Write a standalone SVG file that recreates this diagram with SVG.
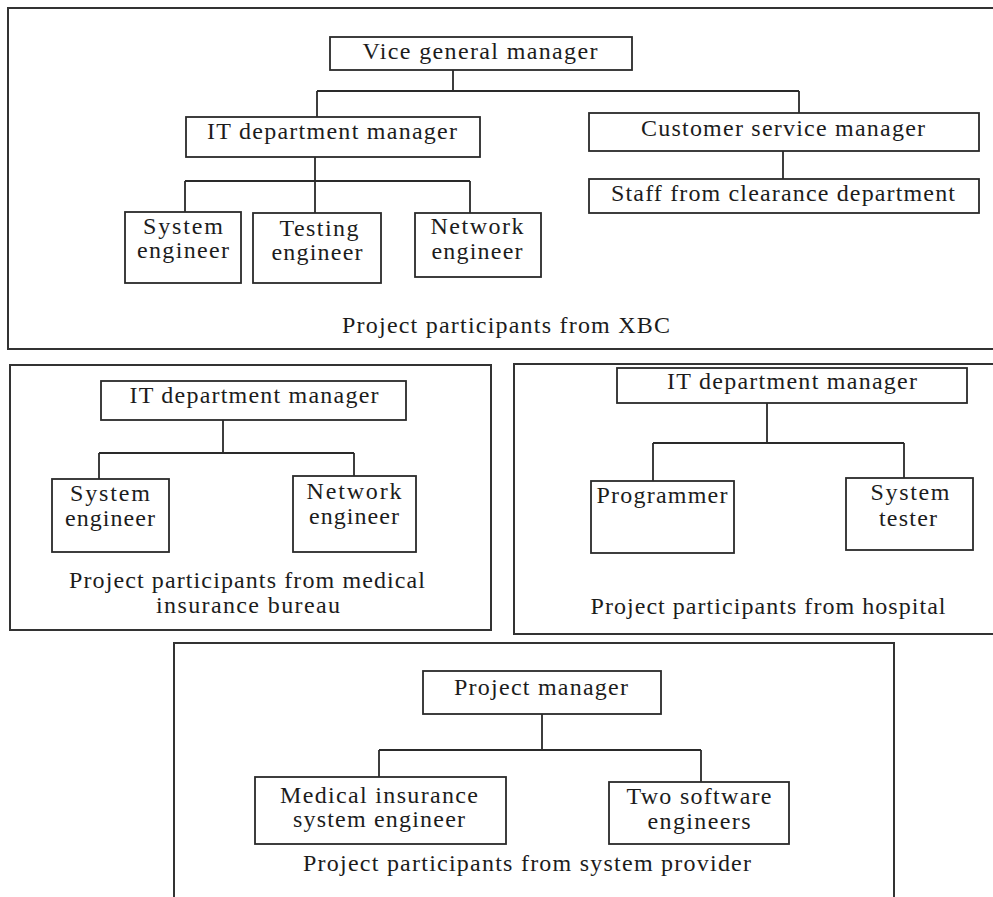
<svg xmlns="http://www.w3.org/2000/svg" width="993" height="897" viewBox="0 0 993 897">
<style>
.frame{fill:none;stroke:#333;stroke-width:2}
.box{fill:#fff;stroke:#2a2a2a;stroke-width:1.8}
.t{font-family:"Liberation Serif","Times New Roman",serif;font-size:24px;fill:#1c1c1c;text-anchor:middle}
.c{fill:none;stroke:#2a2a2a;stroke-width:1.8}
</style>
<rect width="993" height="897" fill="#fff"/>

<g id="group-xbc">
<rect class="frame" x="8" y="8" width="1000" height="341"/>
<text class="t" x="506" y="333" textLength="328">Project participants from XBC</text>
</g>
<g id="group-bureau">
<rect class="frame" x="10" y="365" width="481" height="265"/>
<text class="t" x="247" y="588" textLength="356">Project participants from medical</text>
<text class="t" x="248" y="613" textLength="184">insurance bureau</text>
</g>
<g id="group-hospital">
<rect class="frame" x="514" y="364" width="494" height="270"/>
<text class="t" x="768" y="614" textLength="355">Project participants from hospital</text>
</g>
<g id="group-provider">
<rect class="frame" x="174" y="643" width="720" height="270"/>
<text class="t" x="527" y="871" textLength="448">Project participants from system provider</text>
</g>

<g id="connectors">
<path class="c" d="M453 70V91M317 91H799M317 91V117M799 91V113"/>
<path class="c" d="M315 157V213M185 181H470M185 181V212M470 181V213"/>
<path class="c" d="M783 151V179"/>
<path class="c" d="M223 420V453M99 453H354M99 453V479M354 453V476"/>
<path class="c" d="M767 403V443M653 443H904M653 443V481M904 443V478"/>
<path class="c" d="M542 714V750M379 750H701M379 750V777M701 750V782"/>
</g>

<g id="vgm">
<rect class="box" x="330" y="37" width="302" height="33"/>
<text class="t" x="480" y="59" textLength="235">Vice general manager</text>
</g>
<g id="xbc-it">
<rect class="box" x="186" y="117" width="294" height="40"/>
<text class="t" x="332" y="139" textLength="250">IT department manager</text>
</g>
<g id="csm">
<rect class="box" x="589" y="113" width="390" height="38"/>
<text class="t" x="783" y="136" textLength="284">Customer service manager</text>
</g>
<g id="clearance">
<rect class="box" x="589" y="179" width="390" height="34"/>
<text class="t" x="783" y="201" textLength="344">Staff from clearance department</text>
</g>
<g id="xbc-sys">
<rect class="box" x="125" y="212" width="116" height="71"/>
<text class="t" x="183" y="234" textLength="80">System</text>
<text class="t" x="183" y="258" textLength="92">engineer</text>
</g>
<g id="xbc-test">
<rect class="box" x="253" y="213" width="128" height="70"/>
<text class="t" x="319" y="236" textLength="79">Testing</text>
<text class="t" x="317" y="260" textLength="91">engineer</text>
</g>
<g id="xbc-net">
<rect class="box" x="415" y="213" width="126" height="64"/>
<text class="t" x="477" y="234" textLength="93">Network</text>
<text class="t" x="477" y="259" textLength="91">engineer</text>
</g>

<g id="bureau-it">
<rect class="box" x="101" y="381" width="305" height="39"/>
<text class="t" x="254" y="403" textLength="249">IT department manager</text>
</g>
<g id="bureau-sys">
<rect class="box" x="52" y="479" width="117" height="73"/>
<text class="t" x="110" y="501" textLength="80">System</text>
<text class="t" x="110" y="526" textLength="90">engineer</text>
</g>
<g id="bureau-net">
<rect class="box" x="293" y="476" width="123" height="76"/>
<text class="t" x="354" y="499" textLength="95">Network</text>
<text class="t" x="354" y="524" textLength="90">engineer</text>
</g>

<g id="hospital-it">
<rect class="box" x="617" y="368" width="350" height="35"/>
<text class="t" x="792" y="389" textLength="250">IT department manager</text>
</g>
<g id="programmer">
<rect class="box" x="591" y="481" width="143" height="72"/>
<text class="t" x="662" y="503" textLength="131">Programmer</text>
</g>
<g id="tester">
<rect class="box" x="846" y="478" width="127" height="72"/>
<text class="t" x="910" y="500" textLength="79">System</text>
<text class="t" x="908" y="526" textLength="58">tester</text>
</g>

<g id="pm">
<rect class="box" x="423" y="671" width="238" height="43"/>
<text class="t" x="541" y="695" textLength="174">Project manager</text>
</g>
<g id="mise">
<rect class="box" x="255" y="777" width="251" height="67"/>
<text class="t" x="379" y="803" textLength="198">Medical insurance</text>
<text class="t" x="379" y="827" textLength="172">system engineer</text>
</g>
<g id="twose">
<rect class="box" x="609" y="782" width="180" height="62"/>
<text class="t" x="699" y="804" textLength="145">Two software</text>
<text class="t" x="699" y="829" textLength="103">engineers</text>
</g>
</svg>
